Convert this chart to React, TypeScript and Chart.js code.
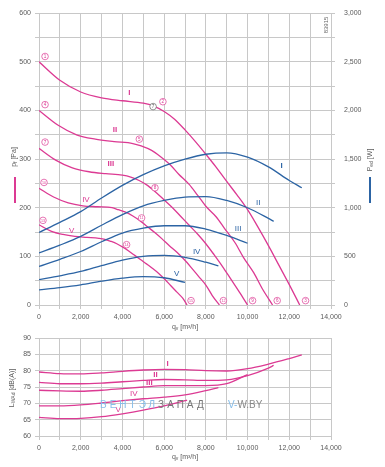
import React, { useEffect, useRef } from "react";
import { Chart, registerables } from "chart.js";
Chart.register(...registerables);

const MAGENTA = "#dc3a93";
const BLUE = "#2c64a4";
const GRID = "#c8c8c8";
const TEXT = "#5a5a5a";
const FONT = "'Liberation Sans', Arial, sans-serif";

// ---- Pressure curves p_f [Pa] vs q_v [m3/h]
const qPI = [0, 1000, 2000, 3000, 4000, 5000, 5500, 6000, 6500, 7000, 7500, 8000, 8500, 9000, 9500, 10000, 10500, 11000, 11500, 12000, 12500];
const pI = [500, 462, 438, 426, 420, 415, 409, 398, 382, 360, 336, 310, 283, 254, 226, 196, 160, 122, 82, 42, 0];
const qPII = [0, 900, 1800, 2700, 3600, 4500, 4900, 5400, 5800, 6300, 6700, 7200, 7600, 8000, 8500, 8900, 9400, 9800, 10300, 10700, 11200];
const pII = [400, 370, 350, 341, 336, 332, 327, 318, 306, 288, 269, 248, 226, 203, 181, 157, 128, 98, 66, 34, 0];
const qPIII = [0, 800, 1600, 2400, 3200, 4000, 4400, 4800, 5200, 5600, 6000, 6400, 6800, 7200, 7600, 8000, 8400, 8800, 9200, 9600, 10000];
const pIII = [322, 298, 282, 274, 270, 267, 263, 256, 246, 232, 216, 200, 182, 164, 146, 126, 103, 79, 53, 27, 0];
const qPIV = [0, 700, 1400, 2100, 2800, 3500, 3800, 4150, 4500, 4850, 5200, 5550, 5900, 6250, 6600, 6950, 7300, 7650, 8000, 8300, 8650];
const pIV = [240, 222, 210, 204, 202, 200, 196, 191, 183, 173, 161, 149, 136, 122, 109, 94, 77, 59, 41, 20, 0];
const qPV = [0, 570, 1150, 1720, 2300, 2870, 3160, 3440, 3730, 4020, 4300, 4590, 4880, 5170, 5450, 5740, 6030, 6310, 6600, 6890, 7100];
const pV = [165, 152, 145, 141, 139, 137, 135, 131, 126, 119, 111, 102, 93, 84, 75, 65, 53, 40, 27, 14, 0];

// ---- Power curves P_ed [W]
const qWI = [0, 1000, 2000, 3000, 4000, 5000, 6000, 7000, 8000, 9000, 10000, 11000, 12000, 12600];
const wI = [745, 850, 960, 1100, 1230, 1340, 1430, 1500, 1550, 1565, 1520, 1420, 1280, 1205];
const qWII = [0, 1000, 2000, 3000, 4000, 5000, 6000, 7000, 8000, 9000, 10000, 11000, 11250];
const wII = [535, 615, 705, 820, 930, 1020, 1075, 1110, 1115, 1075, 1000, 890, 860];
const qWIII = [0, 1000, 2000, 3000, 4000, 5000, 6000, 7000, 8000, 9000, 10000];
const wIII = [396, 470, 550, 650, 740, 790, 815, 815, 780, 715, 635];
const qWIV = [0, 1000, 2000, 3000, 4000, 5000, 6000, 7000, 8000, 8600];
const wIV = [260, 300, 345, 405, 462, 500, 510, 490, 440, 403];
const qWV = [0, 1000, 2000, 3000, 4000, 5000, 6000, 7000];
const wV = [155, 178, 207, 245, 276, 292, 280, 232];

// ---- Sound power L_WAd [dB(A)]
const qLI = [0, 1000, 2000, 3000, 4000, 5000, 6000, 7000, 8000, 9000, 10000, 11000, 12000, 12600];
const lI = [79.6, 79.1, 79.0, 79.3, 79.8, 80.2, 80.4, 80.3, 80.0, 79.9, 80.6, 82.0, 83.7, 84.8];
const qLII = [0, 1000, 2000, 3000, 4000, 5000, 6000, 7000, 8000, 9000, 10000, 11000, 11250];
const lII = [76.4, 76.0, 76.0, 76.2, 76.6, 77.0, 77.3, 77.2, 77.0, 77.2, 78.5, 80.8, 81.6];
const qLIII = [0, 1000, 2000, 3000, 4000, 5000, 6000, 7000, 8000, 9000, 10000];
const lIII = [74.0, 73.8, 73.7, 74.0, 74.5, 75.0, 75.4, 75.4, 75.4, 76.0, 78.8];
const qLIV = [0, 1000, 2000, 3000, 4000, 5000, 6000, 7000, 8000, 8600];
const lIV = [69.2, 69.2, 69.5, 70.1, 70.8, 71.4, 71.9, 72.6, 73.9, 74.8];
const qLV = [0, 1000, 2000, 3000, 4000, 5000, 6000, 7000, 7100];
const lV = [65.7, 65.3, 65.4, 65.9, 66.8, 67.9, 69.2, 70.8, 71.0];

// ---- Labels / markers (data units)
const romans = ["I", "II", "III", "IV", "V"];
const pLabelQ = [4330, 3640, 3450, 2250, 1570];
const pLabelP = [436, 360, 290, 217, 152];
const wLabelQ = [11630, 10510, 9550, 7560, 6600];
const wLabelW = [1430, 1052, 783, 545, 321];
const lLabelQ = [6170, 5590, 5290, 4550, 3790];
const lLabelL = [82.2, 78.8, 76.3, 73.0, 67.9];
const markerQ = [290, 290, 290, 240, 190, 5940, 4810, 5560, 4920, 4200, 12780, 11420, 10240, 8840, 7290];
const markerP = [511, 412, 335, 252, 174, 418, 341, 241, 179, 124, 9, 9, 9, 9, 9];
const markerText = ["1", "4", "7", "10", "13", "2", "5", "8", "11", "14", "3", "6", "9", "12", "15"];
const opQ = 5470;
const opP = 408;
const opText = "7";

const xy = (xs: number[], ys: number[]) => xs.map((x, i) => ({ x, y: ys[i] }));

type Part = { t: string; sub?: boolean };
function drawRich(ctx: CanvasRenderingContext2D, parts: Part[], cx: number, cy: number, size: number, color: string) {
  const sub = size * 0.72;
  ctx.fillStyle = color;
  ctx.textBaseline = "middle";
  ctx.textAlign = "left";
  let total = 0;
  for (const p of parts) {
    ctx.font = `${p.sub ? sub : size}px ${FONT}`;
    total += ctx.measureText(p.t).width;
  }
  let x = cx - total / 2;
  for (const p of parts) {
    ctx.font = `${p.sub ? sub : size}px ${FONT}`;
    ctx.fillText(p.t, x, cy + (p.sub ? size * 0.3 : 0));
    x += ctx.measureText(p.t).width;
  }
}
function drawRotated(ctx: CanvasRenderingContext2D, parts: Part[], cx: number, cy: number, size: number, color: string) {
  ctx.save();
  ctx.translate(cx, cy);
  ctx.rotate(-Math.PI / 2);
  drawRich(ctx, parts, 0, 0, size, color);
  ctx.restore();
}
function circled(ctx: CanvasRenderingContext2D, x: number, y: number, t: string, color: string) {
  ctx.save();
  ctx.beginPath();
  ctx.arc(x, y, 3.3, 0, Math.PI * 2);
  ctx.fillStyle = "#ffffff";
  ctx.fill();
  ctx.lineWidth = 0.7;
  ctx.strokeStyle = color;
  ctx.stroke();
  ctx.fillStyle = color;
  ctx.font = `${t.length > 1 ? 3.6 : 4.6}px ${FONT}`;
  ctx.textAlign = "center";
  ctx.textBaseline = "middle";
  ctx.fillText(t, x, y + 0.3);
  ctx.restore();
}

const qTitle: Part[] = [{ t: "q" }, { t: "v", sub: true }, { t: " [m³/h]" }];

const xScale = (height: number) => ({
  type: "linear" as const,
  min: 0,
  max: 14000,
  ticks: {
    stepSize: 1000,
    autoSkip: false,
    maxRotation: 0,
    padding: 4,
    color: TEXT,
    font: { size: 7, family: FONT },
    callback: (v: any) => (Number(v) % 2000 === 0 ? Number(v).toLocaleString("en-US") : ""),
  },
  grid: { color: GRID, tickLength: 4, lineWidth: 1 },
  border: { color: GRID },
  afterFit: (s: any) => {
    s.height = height;
  },
});

export default function App() {
  const topRef = useRef<HTMLCanvasElement>(null);
  const botRef = useRef<HTMLCanvasElement>(null);

  useEffect(() => {
    const line = (d: any, color: string, axis: string) => ({
      data: d,
      borderColor: color,
      backgroundColor: color,
      borderWidth: 1.3,
      showLine: true,
      pointRadius: 0,
      fill: false,
      cubicInterpolationMode: "monotone",
      yAxisID: axis,
    });

    const topDecor = {
      id: "topDecor",
      afterDatasetsDraw(chart: any) {
        const ctx = chart.ctx as CanvasRenderingContext2D;
        const sx = chart.scales.x;
        const sy = chart.scales.y;
        const sy2 = chart.scales.y2;
        ctx.save();
        // curve labels
        ctx.textAlign = "center";
        ctx.textBaseline = "middle";
        romans.forEach((r, i) => {
          ctx.font = `${i < 3 ? "bold " : ""}8px ${FONT}`;
          ctx.fillStyle = MAGENTA;
          ctx.fillText(r, sx.getPixelForValue(pLabelQ[i]), sy.getPixelForValue(pLabelP[i]));
          ctx.font = `${i === 0 ? "bold " : ""}8px ${FONT}`;
          ctx.fillStyle = BLUE;
          ctx.fillText(r, sx.getPixelForValue(wLabelQ[i]), sy2.getPixelForValue(wLabelW[i]));
        });
        markerQ.forEach((q, i) => circled(ctx, sx.getPixelForValue(q), sy.getPixelForValue(markerP[i]), markerText[i], MAGENTA));
        circled(ctx, sx.getPixelForValue(opQ), sy.getPixelForValue(opP), opText, "#666666");
        // axis titles
        drawRotated(ctx, [{ t: "p" }, { t: "f", sub: true }, { t: " [Pa]" }], 14, 157, 7, TEXT);
        ctx.fillStyle = MAGENTA;
        ctx.fillRect(14, 177, 2, 26);
        drawRotated(ctx, [{ t: "P" }, { t: "ed", sub: true }, { t: " [W]" }], 370, 160, 7, TEXT);
        ctx.fillStyle = BLUE;
        ctx.fillRect(369, 177, 2, 26);
        drawRotated(ctx, [{ t: "83915" }], 326, 25, 6, "#666666");
        drawRich(ctx, qTitle, (chart.chartArea.left + chart.chartArea.right) / 2, 327, 7, TEXT);
        ctx.restore();
      },
    };

    const botDecor = {
      id: "botDecor",
      afterDatasetsDraw(chart: any) {
        const ctx = chart.ctx as CanvasRenderingContext2D;
        const sx = chart.scales.x;
        const sy = chart.scales.y;
        ctx.save();
        ctx.textAlign = "center";
        ctx.textBaseline = "middle";
        romans.forEach((r, i) => {
          ctx.font = `${i < 3 ? "bold " : ""}8px ${FONT}`;
          ctx.fillStyle = MAGENTA;
          ctx.fillText(r, sx.getPixelForValue(lLabelQ[i]), sy.getPixelForValue(lLabelL[i]));
        });
        // watermark
        ctx.textAlign = "left";
        ctx.textBaseline = "alphabetic";
        ctx.font = `10px ${FONT}`;
        const anyCtx = ctx as any;
        const base = 88;
        let x = 100;
        anyCtx.letterSpacing = "3px";
        ctx.fillStyle = "#86bde9";
        ctx.fillText("ВЕНТЭЛ", x, base);
        x += ctx.measureText("ВЕНТЭЛ").width;
        ctx.fillStyle = "#777777";
        ctx.fillText("ЗАПАД", x, base);
        anyCtx.letterSpacing = "0px";
        x = 228;
        ctx.fillStyle = "#86bde9";
        ctx.fillText("V-", x, base);
        x += ctx.measureText("V-").width;
        ctx.fillStyle = "#888888";
        ctx.fillText("W.BY", x, base);
        // titles
        drawRotated(ctx, [{ t: "L" }, { t: "WAd", sub: true }, { t: " [dB(A)]" }], 12, 68, 7, TEXT);
        drawRich(ctx, qTitle, (chart.chartArea.left + chart.chartArea.right) / 2, 137, 7, TEXT);
        ctx.restore();
      },
    };

    const common: any = {
      responsive: false,
      maintainAspectRatio: false,
      animation: false,
      events: [],
      plugins: { legend: { display: false }, tooltip: { enabled: false } },
    };

    const top = new Chart(topRef.current!, {
      type: "scatter",
      data: {
        datasets: [
          line(xy(qWI, wI), BLUE, "y2"),
          line(xy(qWII, wII), BLUE, "y2"),
          line(xy(qWIII, wIII), BLUE, "y2"),
          line(xy(qWIV, wIV), BLUE, "y2"),
          line(xy(qWV, wV), BLUE, "y2"),
          line(xy(qPI, pI), MAGENTA, "y"),
          line(xy(qPII, pII), MAGENTA, "y"),
          line(xy(qPIII, pIII), MAGENTA, "y"),
          line(xy(qPIV, pIV), MAGENTA, "y"),
          line(xy(qPV, pV), MAGENTA, "y"),
        ] as any,
      },
      options: {
        ...common,
        layout: { padding: { top: 13, left: 0, right: 0, bottom: 0 } },
        scales: {
          x: xScale(31),
          y: {
            type: "linear",
            position: "left",
            min: 0,
            max: 600,
            ticks: {
              stepSize: 50,
              padding: 4,
              color: TEXT,
              font: { size: 7, family: FONT },
              callback: (v: any) => (Number(v) % 100 === 0 ? String(v) : ""),
            },
            grid: { color: GRID, tickLength: 4 },
            border: { color: GRID },
            afterFit: (s: any) => {
              s.width = 39;
            },
          },
          y2: {
            type: "linear",
            position: "right",
            min: 0,
            max: 3000,
            ticks: {
              stepSize: 250,
              padding: 9,
              color: TEXT,
              font: { size: 7, family: FONT },
              callback: (v: any) => (Number(v) % 500 === 0 ? Number(v).toLocaleString("en-US") : ""),
            },
            grid: { color: GRID, tickLength: 4, drawOnChartArea: false },
            border: { color: GRID },
            afterFit: (s: any) => {
              s.width = 54;
            },
          },
        },
      } as any,
      plugins: [topDecor],
    });

    const bot = new Chart(botRef.current!, {
      type: "scatter",
      data: {
        datasets: [
          line(xy(qLI, lI), MAGENTA, "y"),
          line(xy(qLII, lII), MAGENTA, "y"),
          line(xy(qLIII, lIII), MAGENTA, "y"),
          line(xy(qLIV, lIV), MAGENTA, "y"),
          line(xy(qLV, lV), MAGENTA, "y"),
        ] as any,
      },
      options: {
        ...common,
        layout: { padding: { top: 18, left: 0, right: 54, bottom: 0 } },
        scales: {
          x: xScale(31),
          y: {
            type: "linear",
            position: "left",
            min: 60,
            max: 90,
            ticks: {
              stepSize: 5,
              padding: 4,
              color: TEXT,
              font: { size: 7, family: FONT },
            },
            grid: { color: GRID, tickLength: 4 },
            border: { color: GRID },
            afterFit: (s: any) => {
              s.width = 39;
            },
          },
        },
      } as any,
      plugins: [botDecor],
    });

    return () => {
      top.destroy();
      bot.destroy();
    };
  }, []);

  return (
    <div style={{ position: "absolute", left: 0, top: 0, width: 385, height: 467, background: "#fff" }}>
      <canvas ref={topRef} width={385} height={336} style={{ position: "absolute", left: 0, top: 0 }} />
      <canvas ref={botRef} width={385} height={147} style={{ position: "absolute", left: 0, top: 320 }} />
    </div>
  );
}
